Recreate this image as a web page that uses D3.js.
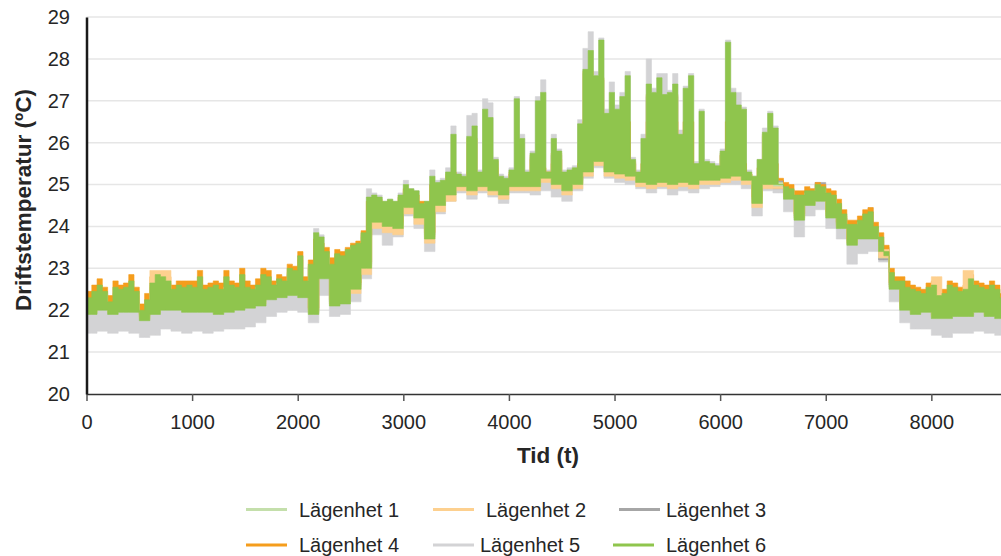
<!DOCTYPE html>
<html>
<head>
<meta charset="utf-8">
<script src="https://cdn.jsdelivr.net/npm/d3@7"></script>
<style>
    body { margin: 0; background: #fff; }
    text { font-family: "Liberation Sans", Arial, sans-serif; fill: #262626; }
</style>
</head>
<body>
<div id="chart"></div>
<script>
// Lägenhet 6 upper envelope, one value per 50 h (t = 0 ... 8700)
let l6High = [
    22.3, 22.45, 22.6, 22.45, 22.2, 22.55, 22.5, 22.55, 22.7, 22.45, 22.0, 22.25, 22.65, 22.85, 22.8, 22.7, 22.5, 22.6, 22.55, 22.6,
    22.55, 22.8, 22.5, 22.55, 22.6, 22.5, 22.8, 22.6, 22.55, 22.85, 22.55, 22.5, 22.6, 22.85, 22.8, 22.6, 22.75, 22.7, 23.0, 22.95,
    23.3, 22.7, 23.1, 23.85, 23.75, 23.4, 23.1, 23.35, 23.3, 23.45, 23.55, 23.6, 23.85, 24.7, 24.75, 24.7, 24.6, 24.65, 24.6, 24.75,
    25.0, 24.9, 24.85, 24.55, 24.6, 25.2, 25.05, 25.1, 25.3, 26.2, 25.25, 25.2, 26.15, 26.4, 25.3, 26.8, 26.6, 25.6, 25.2, 25.15,
    25.35, 27.05, 26.1, 25.3, 25.75, 27.0, 27.2, 25.3, 26.1, 25.8, 25.3, 25.35, 25.4, 26.45, 27.75, 28.2, 27.6, 28.45, 26.7, 27.2,
    26.8, 27.1, 27.6, 25.6, 25.3, 26.1, 27.4, 27.2, 27.55, 27.15, 27.2, 27.4, 26.2, 27.3, 27.6, 25.5, 26.75, 25.55, 25.5, 25.45,
    25.8, 28.4, 27.2, 26.9, 26.8, 25.3, 25.2, 25.6, 26.25, 26.7, 26.35, 25.0, 24.95, 24.9, 24.75, 24.75, 24.85, 24.85, 25.0, 24.95,
    24.8, 24.75, 24.55, 24.3, 24.05, 24.05, 24.15, 24.3, 24.35, 24.0, 23.75, 23.3, 22.9, 22.7, 22.7, 22.55, 22.5, 22.45, 22.4, 22.55,
    22.6, 22.35, 22.4, 22.6, 22.55, 22.45, 22.5, 22.75, 22.6, 22.55, 22.5, 22.6, 22.5, 22.3, 22.3
];
// Lägenhet 6 lower envelope, one value per 100 h
let l6Low = [
    21.9, 22.0, 21.9, 21.95, 21.95, 21.75, 21.9, 22.0, 22.0, 21.95,
    21.95, 21.95, 21.9, 21.95, 22.0, 22.05, 22.1, 22.25, 22.3, 22.35,
    22.3, 21.9, 22.75, 22.1, 22.15, 22.5, 23.0, 24.1, 24.0, 23.95,
    24.45, 24.2, 23.7, 24.5, 24.75, 24.95, 24.85, 24.95, 24.85, 24.75,
    24.95, 24.95, 24.95, 25.15, 25.0, 24.85, 25.0, 25.3, 25.55, 25.3,
    25.25, 25.2, 25.05, 25.0, 25.05, 25.0, 25.05, 25.0, 25.1, 25.1,
    25.15, 25.2, 25.1, 24.55, 25.0, 25.0, 24.65, 24.15, 24.5, 24.6,
    24.2, 23.95, 23.55, 23.7, 23.7, 23.4, 22.5, 22.0, 21.9, 21.95,
    21.8, 21.8, 21.85, 21.85, 21.95, 21.85, 21.8, 21.75
];

// Lägenhet 5 upper envelope, per 50 h
let l5High = [
    22.15, 22.3, 22.45, 22.3, 22.05, 22.4, 22.35, 22.4, 22.55, 22.3, 21.9, 22.1, 22.5, 22.7, 22.65, 22.55, 22.35, 22.45, 22.4, 22.45,
    22.4, 22.65, 22.35, 22.4, 22.45, 22.35, 22.65, 22.45, 22.4, 22.7, 22.4, 22.35, 22.45, 22.7, 22.65, 22.45, 22.6, 22.55, 22.85, 22.8,
    23.2, 22.6, 23.0, 23.95, 23.8, 23.3, 23.0, 23.3, 23.2, 23.4, 23.5, 23.55, 23.85, 24.9, 24.8, 24.75, 24.6, 24.65, 24.6, 24.8,
    25.1, 24.9, 24.85, 24.55, 24.6, 25.35, 25.1, 25.15, 25.4, 26.4, 25.3, 25.25, 26.65, 26.7, 25.35, 27.05, 26.95, 25.65, 25.25, 25.2,
    25.4, 27.1, 26.2, 25.35, 25.8, 27.1, 27.5, 25.35, 26.2, 25.85, 25.35, 25.4, 25.45, 26.55, 28.25, 28.65, 27.7, 28.5, 26.8, 27.45,
    26.9, 27.2, 27.7, 25.65, 25.35, 26.2, 28.0, 27.3, 27.65, 27.65, 27.25, 27.65, 26.3, 27.35, 27.65, 25.55, 26.8, 25.6, 25.55, 25.5,
    25.85, 28.45, 27.3, 27.2, 26.85, 25.35, 25.2, 25.6, 26.35, 26.75, 26.4, 24.95, 24.9, 24.85, 24.7, 24.7, 24.85, 24.9, 25.05, 24.9,
    24.75, 24.7, 24.5, 24.2, 24.0, 23.95, 24.1, 24.25, 24.45, 23.95, 23.65, 23.2, 22.8, 22.6, 22.6, 22.45, 22.4, 22.35, 22.3, 22.45,
    22.5, 22.25, 22.3, 22.5, 22.45, 22.35, 22.4, 22.65, 22.5, 22.45, 22.4, 22.5, 22.4, 22.2, 22.2
];
// Lägenhet 5 lower envelope, per 100 h
let l5Low = [
    21.45, 21.5, 21.45, 21.5, 21.45, 21.35, 21.4, 21.55, 21.5, 21.45,
    21.5, 21.45, 21.5, 21.55, 21.55, 21.6, 21.7, 21.85, 21.95, 22.0,
    21.95, 21.7, 22.35, 21.85, 21.9, 22.2, 22.75, 23.8, 23.55, 23.75,
    24.25, 23.95, 23.4, 24.3, 24.6, 24.8, 24.65, 24.8, 24.7, 24.55,
    24.8, 24.8, 24.75, 24.85, 24.7, 24.6, 24.85, 25.15, 25.4, 25.15,
    25.05, 25.0, 24.9, 24.8, 24.9, 24.75, 24.85, 24.8, 24.9, 24.95,
    25.0, 25.0, 24.9, 24.25, 24.85, 24.8, 24.35, 23.75, 24.25, 24.4,
    23.95, 23.7, 23.1, 23.35, 23.4, 23.15, 22.2, 21.7, 21.55, 21.55,
    21.4, 21.35, 21.45, 21.45, 21.5, 21.45, 21.4, 21.3
];

// Lägenhet 4 upper envelope, per 50 h
let l4High = [
    22.45, 22.6, 22.75, 22.55, 22.35, 22.7, 22.6, 22.65, 22.85, 22.55, 22.15, 22.4, 22.8, 22.9, 22.9, 22.8, 22.6, 22.7, 22.7, 22.7,
    22.7, 22.95, 22.6, 22.65, 22.7, 22.65, 22.95, 22.7, 22.65, 23.0, 22.7, 22.6, 22.75, 23.0, 22.95, 22.7, 22.85, 22.8, 23.1, 23.05,
    23.4, 22.8, 23.2, 23.7, 23.6, 23.5, 23.25, 23.45, 23.4, 23.5, 23.6, 23.65, 23.9, 24.6, 24.65, 24.6, 24.55, 24.6, 24.55, 24.7,
    24.9, 24.8, 24.75, 24.6, 24.55, 25.0, 24.95, 25.0, 25.2, 25.3, 25.2, 25.1, 25.3, 25.3, 25.2, 25.3, 25.3, 25.4, 25.1, 25.05,
    25.25, 25.3, 25.3, 25.2, 25.6, 25.4, 25.4, 25.2, 25.5, 25.6, 25.2, 25.3, 25.35, 25.5, 26.5, 26.8, 26.5, 26.5, 26.4, 26.5,
    26.5, 26.5, 26.5, 25.5, 25.25, 25.5, 26.5, 26.6, 26.5, 26.5, 26.5, 26.5, 25.6, 26.5, 26.5, 25.45, 25.5, 25.5, 25.45, 25.4,
    25.7, 26.5, 26.5, 26.0, 25.5, 25.25, 25.15, 25.4, 25.6, 25.6, 25.5, 25.1, 25.05, 25.0, 24.85, 24.85, 24.95, 24.9, 25.05, 25.0,
    24.9, 24.85, 24.65, 24.4, 24.15, 24.15, 24.25, 24.4, 24.45, 24.1, 23.85, 23.4, 23.0, 22.8, 22.8, 22.7, 22.6, 22.55, 22.5, 22.65,
    22.7, 22.5, 22.5, 22.7, 22.65, 22.55, 22.6, 22.85, 22.7, 22.65, 22.6, 22.7, 22.6, 22.4, 22.4
];
// Lägenhet 4 lower envelope, per 100 h
let l4Low = [
    22.05, 22.15, 22.05, 22.1, 22.1, 21.9, 22.05, 22.15, 22.15, 22.1,
    22.1, 22.1, 22.05, 22.1, 22.15, 22.2, 22.25, 22.4, 22.45, 22.5,
    22.45, 22.05, 22.9, 22.25, 22.3, 22.65, 23.15, 24.25, 24.15, 24.1,
    24.6, 24.35, 23.85, 24.65, 24.9, 25.1, 25.0, 25.1, 25.0, 24.9,
    25.1, 25.1, 25.1, 25.3, 25.15, 25.0, 25.15, 25.45, 25.7, 25.45,
    25.4, 25.35, 25.2, 25.15, 25.2, 25.15, 25.2, 25.15, 25.25, 25.25,
    25.3, 25.35, 25.25, 24.7, 25.15, 25.15, 24.8, 24.3, 24.65, 24.75,
    24.35, 24.1, 23.7, 23.85, 23.85, 23.55, 22.65, 22.15, 22.05, 22.1,
    21.95, 21.95, 22.0, 22.0, 22.1, 22.0, 21.95, 21.9
];

// Lägenhet 3, per 100 h
let l3High = [
    22.2, 22.35, 22.1, 22.4, 22.35, 21.9, 22.55, 22.6, 22.4, 22.45,
    22.45, 22.4, 22.4, 22.5, 22.45, 22.4, 22.5, 22.5, 22.6, 22.85,
    22.6, 23.0, 23.3, 23.0, 23.2, 23.45, 23.75, 24.6, 24.5, 24.5,
    24.8, 24.45, 24.5, 24.95, 25.2, 25.1, 26.05, 25.2, 25.5, 25.05,
    25.25, 25.2, 25.65, 25.2, 25.7, 25.2, 25.3, 27.65, 27.5, 26.6,
    26.7, 25.5, 25.2, 27.1, 27.05, 27.1, 26.1, 25.4, 25.45, 25.35,
    25.7, 26.8, 25.2, 25.1, 26.15, 24.9, 24.8, 24.65, 24.75, 25.05,
    24.65, 24.2, 23.95, 24.05, 23.9, 23.2, 22.6, 22.45, 22.35, 22.3,
    22.25, 22.3, 22.35, 22.4, 22.45, 22.4, 22.2, 22.2
];
let l3Low = [
    22.0, 22.1, 22.0, 22.05, 22.05, 21.85, 22.0, 22.1, 22.1, 22.05,
    22.05, 22.05, 22.0, 22.05, 22.1, 22.15, 22.2, 22.35, 22.4, 22.45,
    22.4, 22.0, 22.85, 22.2, 22.25, 22.6, 23.1, 24.2, 24.1, 24.05,
    24.55, 24.3, 23.8, 24.6, 24.85, 25.05, 24.95, 25.05, 24.95, 24.85,
    25.05, 25.05, 25.05, 25.25, 25.1, 24.95, 25.1, 25.4, 25.65, 25.4,
    25.35, 25.3, 25.15, 25.1, 25.15, 25.1, 25.15, 25.1, 25.2, 25.2,
    25.25, 25.3, 25.2, 24.65, 25.1, 25.1, 24.75, 24.25, 24.6, 24.7,
    24.3, 24.05, 23.65, 23.8, 23.8, 23.5, 22.6, 22.1, 22.0, 22.05,
    21.9, 21.9, 21.95, 21.95, 22.05, 21.95, 21.9, 21.85
];

// Lägenhet 2, per 100 h
let l2High = [
    22.25, 22.4, 22.15, 22.45, 22.4, 21.95, 22.95, 22.95, 22.45, 22.5,
    22.5, 22.45, 22.45, 22.55, 22.5, 22.45, 22.55, 22.55, 22.65, 22.9,
    22.65, 23.05, 23.35, 23.05, 23.25, 23.5, 23.8, 24.65, 24.55, 24.55,
    24.85, 24.5, 24.55, 25.0, 25.25, 25.15, 26.1, 25.25, 25.55, 25.1,
    25.3, 25.25, 25.7, 25.25, 25.75, 25.25, 25.35, 27.7, 27.55, 26.65,
    26.75, 25.55, 25.25, 27.15, 27.1, 27.15, 26.15, 25.45, 25.5, 25.4,
    25.75, 26.85, 25.25, 25.15, 26.2, 24.95, 24.85, 24.7, 24.8, 24.9,
    24.7, 24.25, 24.0, 24.1, 23.95, 23.25, 22.65, 22.5, 22.4, 22.35,
    22.8, 22.35, 22.4, 22.95, 22.5, 22.45, 22.25, 22.25
];
let l2Low = [
    21.95, 22.05, 21.95, 22.0, 22.0, 21.8, 21.95, 22.05, 22.05, 22.0,
    22.0, 22.0, 21.95, 22.0, 22.05, 22.1, 22.15, 22.3, 22.35, 22.4,
    22.35, 21.95, 22.8, 22.15, 22.2, 22.4, 22.85, 23.95, 23.85, 23.8,
    24.3, 24.05, 23.6, 24.35, 24.6, 24.85, 24.75, 24.85, 24.75, 24.65,
    24.85, 24.85, 24.85, 25.05, 24.9, 24.75, 24.9, 25.2, 25.45, 25.2,
    25.15, 25.1, 24.95, 24.9, 24.95, 24.9, 24.95, 24.9, 25.0, 25.0,
    25.05, 25.1, 25.0, 24.45, 24.9, 24.9, 24.7, 24.2, 24.55, 24.65,
    24.25, 24.0, 23.6, 23.75, 23.75, 23.45, 22.55, 22.05, 21.95, 22.0,
    21.85, 21.85, 21.9, 21.9, 22.0, 21.9, 21.85, 21.8
];

// Lägenhet 1, per 100 h
let l1High = [
    22.25, 22.4, 22.15, 22.45, 22.4, 21.95, 22.6, 22.65, 22.45, 22.5,
    22.5, 22.45, 22.45, 22.55, 22.5, 22.45, 22.55, 22.55, 22.65, 22.9,
    22.65, 23.05, 23.35, 23.05, 23.25, 23.5, 23.8, 24.65, 24.55, 24.55,
    24.85, 24.5, 24.55, 25.0, 25.25, 25.15, 26.1, 25.25, 25.55, 25.1,
    25.3, 25.25, 25.7, 25.25, 25.75, 25.25, 25.35, 27.7, 27.55, 26.65,
    26.75, 25.55, 25.25, 27.15, 27.1, 27.15, 26.15, 25.45, 25.5, 25.4,
    25.75, 26.85, 25.25, 25.15, 26.2, 24.95, 24.85, 24.7, 24.8, 24.9,
    24.7, 24.25, 24.0, 24.1, 23.95, 23.25, 22.65, 22.5, 22.4, 22.35,
    22.3, 22.35, 22.4, 22.45, 22.5, 22.45, 22.25, 22.25
];
let l1Low = [
    21.95, 22.05, 21.95, 22.0, 22.0, 21.8, 21.95, 22.05, 22.05, 22.0,
    22.0, 22.0, 21.95, 22.0, 22.05, 22.1, 22.15, 22.3, 22.35, 22.4,
    22.35, 21.95, 22.8, 22.15, 22.2, 22.55, 23.05, 24.15, 24.05, 24.0,
    24.5, 24.25, 23.75, 24.55, 24.8, 25.0, 24.9, 25.0, 24.9, 24.8,
    25.0, 25.0, 25.0, 25.2, 25.05, 24.9, 25.05, 25.35, 25.6, 25.35,
    25.3, 25.25, 25.1, 25.05, 25.1, 25.05, 25.1, 25.05, 25.15, 25.15,
    25.2, 25.25, 25.15, 24.6, 25.05, 25.05, 24.7, 24.2, 24.55, 24.65,
    24.25, 24.0, 23.6, 23.75, 23.75, 23.45, 22.55, 22.05, 21.95, 22.0,
    21.85, 21.85, 21.9, 21.9, 22.0, 21.9, 21.85, 21.8
];

let seriesNames = ["Lägenhet 1", "Lägenhet 2", "Lägenhet 3", "Lägenhet 4", "Lägenhet 5", "Lägenhet 6"];
let xTicks = [0, 1000, 2000, 3000, 4000, 5000, 6000, 7000, 8000];
let yTicks = [20, 21, 22, 23, 24, 25, 26, 27, 28, 29];

let colors = {
    "Lägenhet 1": "#c4dfab",
    "Lägenhet 2": "#fdd08f",
    "Lägenhet 3": "#a6a6a6",
    "Lägenhet 4": "#f59d1c",
    "Lägenhet 5": "#d3d3d5",
    "Lägenhet 6": "#8fc54d"
};

// draw order: 6 on top, pale grey at the bottom
let series = [
    {name: "Lägenhet 5", high: l5High, highStep: 50, low: l5Low, lowStep: 100},
    {name: "Lägenhet 3", high: l3High, highStep: 100, low: l3Low, lowStep: 100},
    {name: "Lägenhet 1", high: l1High, highStep: 100, low: l1Low, lowStep: 100},
    {name: "Lägenhet 4", high: l4High, highStep: 50, low: l4Low, lowStep: 100},
    {name: "Lägenhet 2", high: l2High, highStep: 100, low: l2Low, lowStep: 100},
    {name: "Lägenhet 6", high: l6High, highStep: 50, low: l6Low, lowStep: 100}
];

let width = 1001, height = 556;

let x = d3.scaleLinear().domain([0, 8760]).range([86.5, 1011.6]);
let y = d3.scaleLinear().domain([20, 29]).range([394, 17]);

let svg = d3.select("#chart")
    .append("svg")
    .attr("width", width)
    .attr("height", height);

// Gridlines
svg.append("g")
    .selectAll("line")
    .data(yTicks.slice(1))
    .enter()
    .append("line")
    .attr("x1", x(0))
    .attr("x2", width)
    .attr("y1", d => y(d))
    .attr("y2", d => y(d))
    .attr("stroke", "#e6e6e6")
    .attr("stroke-width", 1.5);

// one point every 50 h, each envelope value held over its own sample span
function bandPoints(s) {
    let pts = [];
    for (let t = 0; t <= 8750; t += 50) {
        let hi = s.high[Math.min(Math.floor(t / s.highStep), s.high.length - 1)];
        let lo = s.low[Math.min(Math.floor(t / s.lowStep), s.low.length - 1)];
        pts.push({t: t, hi: hi, lo: lo});
    }
    return pts;
}

let area = d3.area()
    .curve(d3.curveStepAfter)
    .x(d => x(d.t))
    .y0(d => y(d.lo))
    .y1(d => y(d.hi));

svg.append("g")
    .selectAll("path")
    .data(series)
    .enter()
    .append("path")
    .attr("d", d => area(bandPoints(d)))
    .attr("fill", d => colors[d.name])
    .attr("stroke", d => colors[d.name])
    .attr("stroke-width", 0.6);

// X axis
let xAxis = svg.append("g")
    .attr("transform", "translate(0," + y(20) + ")")
    .call(d3.axisBottom(x).tickValues(xTicks).tickFormat(d3.format("d")).tickSize(7).tickPadding(14).tickSizeOuter(0));
xAxis.select(".domain").attr("stroke", "#333").attr("stroke-width", 1.5);
xAxis.selectAll(".tick line").attr("stroke", "#555").attr("stroke-width", 1.5);
xAxis.selectAll("text").style("font-size", "20px").attr("fill", "#262626");

// Y axis
let yAxis = svg.append("g")
    .attr("transform", "translate(" + x(0) + ",0)")
    .call(d3.axisLeft(y).tickValues(yTicks).tickSize(0).tickPadding(16.5));
yAxis.select(".domain").attr("stroke", "#1a1a1a").attr("stroke-width", 2.5);
yAxis.selectAll("text").style("font-size", "20px").attr("fill", "#262626");

// Axis titles
svg.append("text")
    .attr("x", 548)
    .attr("y", 463)
    .style("text-anchor", "middle")
    .style("font-size", "22.5px")
    .style("font-weight", "bold")
    .text("Tid (t)");

svg.append("text")
    .attr("transform", "translate(30.5,200) rotate(-90)")
    .style("text-anchor", "middle")
    .style("font-size", "22.5px")
    .style("font-weight", "bold")
    .text("Driftstemperatur (ºC)");

// Legend
let legendPos = [
    {x: 246, tx: 299, y: 509.5}, {x: 433, tx: 486, y: 509.5}, {x: 619, tx: 666, y: 509.5},
    {x: 246, tx: 299, y: 545}, {x: 433, tx: 480, y: 545}, {x: 613, tx: 666, y: 545}
];

let legend = svg.selectAll(".legend")
    .data(seriesNames)
    .enter()
    .append("g")
    .attr("class", "legend");

legend.append("line")
    .attr("x1", (d, i) => legendPos[i].x)
    .attr("x2", (d, i) => legendPos[i].x + 41)
    .attr("y1", (d, i) => legendPos[i].y)
    .attr("y2", (d, i) => legendPos[i].y)
    .attr("stroke", d => colors[d])
    .attr("stroke-width", 3);

legend.append("text")
    .attr("x", (d, i) => legendPos[i].tx)
    .attr("y", (d, i) => legendPos[i].y)
    .attr("dy", "0.35em")
    .style("font-size", "20px")
    .text(d => d);
</script>
</body>
</html>
